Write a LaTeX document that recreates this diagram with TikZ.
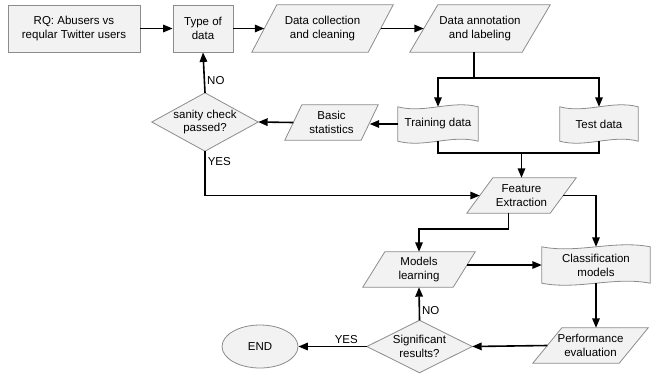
\documentclass[tikz,border=0pt]{standalone}
\usepackage{fontspec}
\setmainfont{Liberation Sans}
\usetikzlibrary{arrows.meta,shapes.geometric,calc,backgrounds}
\definecolor{shapefill}{RGB}{242,242,242}
\definecolor{shapeline}{RGB}{140,140,140}
\begin{document}
\begin{tikzpicture}[x=1pt,y=-1pt,
  font=\fontsize{11.5}{13.8}\selectfont,
  txt/.style={align=center, inner sep=0pt, draw=none},
  box/.style={txt, rectangle, draw=shapeline, fill=shapefill, line width=0.8pt},
  outl/.style={draw=shapeline, fill=shapefill, line width=0.8pt},
  arr/.style={line width=1.6pt, -{Triangle[length=9.5pt,width=7.5pt]}},
  ln/.style={line width=1.6pt},
  lbl/.style={inner sep=2pt}]
\useasboundingbox (0,0) rectangle (652,373);

% rectangles
\node[box, minimum width=132, minimum height=47] (rq) at (74,28.5) {RQ: Abusers vs\\reqular Twitter users};
\node[box, minimum width=60, minimum height=47] (type) at (203,28.5) {Type of\\data};

% parallelograms (text nodes; outlines drawn on background)
\node[txt, minimum width=116, minimum height=47] (dc) at (322.5,28.5) {Data collection\\and cleaning};
\node[txt, minimum width=112, minimum height=47] (da) at (480,28.5) {Data annotation\\and labeling};
\node[txt, minimum width=76, minimum height=35] (bs) at (331.5,122.5) {Basic\\statistics};
\node[txt, minimum width=83, minimum height=35] (fe) at (521.5,195.5) {Feature\\Extraction};
\node[txt, minimum width=90, minimum height=35] (ml) at (419,269.5) {Models\\learning};
\node[txt, minimum width=86, minimum height=35] (pe) at (590.5,345.5) {Performance\\evaluation};

% tapes
\node[txt, minimum width=80, minimum height=34] (train) at (438,124) {Training data};
\node[txt, minimum width=78, minimum height=34] (test) at (599,124) {Test data};
\node[txt, minimum width=108, minimum height=36] (cm) at (596,265) {Classification\\models};

% diamonds
\node[txt, minimum width=106, minimum height=58] (sc) at (205,122) {sanity check\\passed?};
\node[txt, minimum width=105, minimum height=52] (sig) at (419.5,346.5) {Significant\\results?};

% terminator
\node[ellipse, draw=shapeline, fill=shapefill, line width=0.8pt, minimum width=76, minimum height=43, inner sep=0pt] (endn) at (260,346.5) {END};

\begin{scope}[on background layer]
  \foreach \n/\s in {dc/25,da/28,bs/17,fe/26,ml/22,pe/29}
    \draw[outl] ([xshift=\s/2]\n.north west) -- ([xshift=\s/2]\n.north east)
      -- ([xshift=-\s/2]\n.south east) -- ([xshift=-\s/2]\n.south west) -- cycle;
  \foreach \n in {train,test,cm}
    \draw[outl] (\n.north west)
      .. controls ($(\n.north west)!0.33!(\n.north east)+(0,7)$) and ($(\n.north west)!0.67!(\n.north east)+(0,-7)$) .. (\n.north east)
      -- (\n.south east)
      .. controls ($(\n.south west)!0.67!(\n.south east)+(0,-7)$) and ($(\n.south west)!0.33!(\n.south east)+(0,7)$) .. (\n.south west)
      -- cycle;
  \foreach \n in {sc,sig}
    \draw[outl] (\n.north) -- (\n.east) -- (\n.south) -- (\n.west) -- cycle;
\end{scope}

% connectors
\draw[arr] (rq.east) -- (type.west);
\draw[arr] (type.east) -- (dc.west);
\draw[arr] (dc.east) -- (da.west);
\coordinate (split) at ($(da.south)+(-6,26)$);
\draw[ln] ([xshift=-6]da.south) -- (split);
\draw[arr] (split) -| (train.north);
\draw[arr] (split) -| (test.north);
\draw[arr] (train.west) -- (train.west -| bs.east);
\draw[arr] (bs.west) -- (sc.east);
\draw[arr] (sc.north) -- node[lbl,right,pos=0.3]{NO} (type.south);
\draw[arr] (sc.south) |- node[lbl,right,pos=0.12]{YES} (fe.west);
\coordinate (join) at (fe.north |- 0,153);
\draw[ln] (train.south) |- (join) -| (test.south);
\draw[arr] (join) -- (fe.north);
\draw[arr] (fe.east) -| (cm.north);
\draw[arr] ([xshift=-13]fe.south) -- ++(0,16) -| (ml.north);
\draw[arr] ($(cm.west -| ml.east)+(2.8,0)$) -- (cm.west);
\draw[arr] (cm.south) -- (cm.south |- pe.north);
\draw[arr] (pe.west) -- (sig.east);
\draw[arr] (sig.north) -- node[lbl,right,pos=0.3]{NO} (ml.south);
\draw[arr] (sig.west) -- node[lbl,above,pos=0.3]{YES} (endn.east);
\end{tikzpicture}
\end{document}
